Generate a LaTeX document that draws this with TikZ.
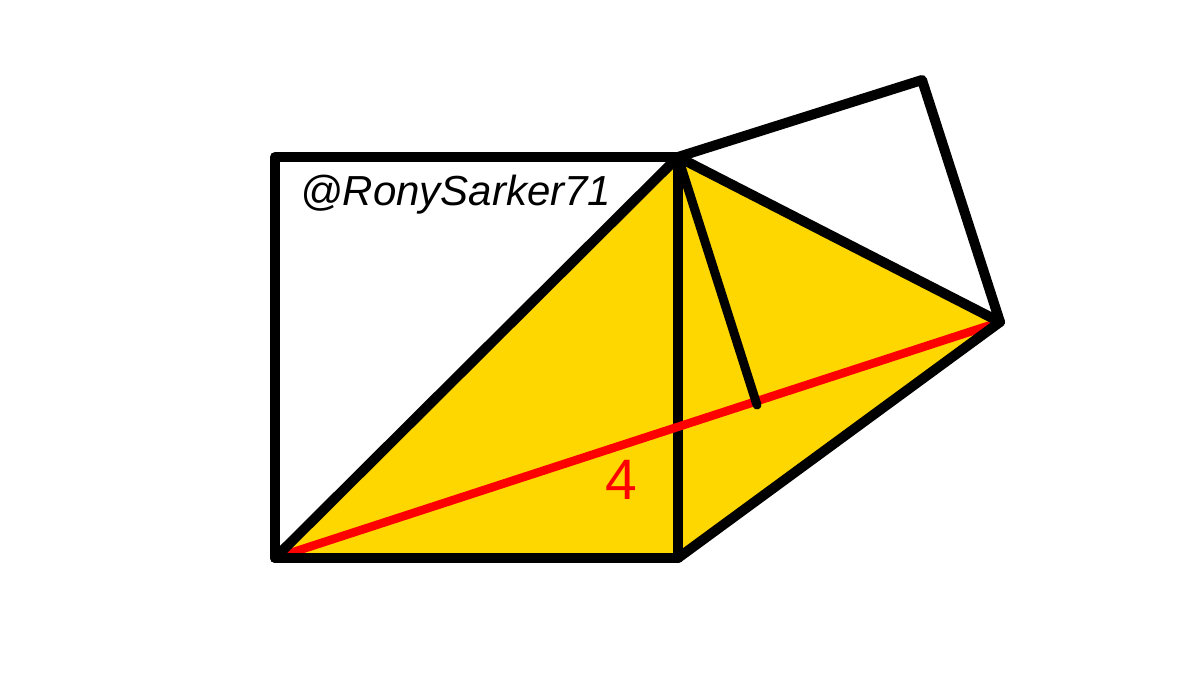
\documentclass[tikz,border=0pt]{standalone}
\usepackage{fontspec}
\setmainfont{Liberation Sans}
\definecolor{gold}{RGB}{255,215,0}
\definecolor{redline}{RGB}{255,0,0}
\tikzset{
  edge/.style={draw=black, line width=10pt, line join=round, line cap=round},
  redseg/.style={draw=redline, line width=8.5pt, line cap=butt},
  perp/.style={draw=black, line width=9pt, line cap=round},
}
\begin{document}
\begin{tikzpicture}[x=1pt,y=-1pt]
\useasboundingbox[fill=white] (0,0) rectangle (1200,675);
\coordinate (A) at (275,558);
\coordinate (B) at (275,157);
\coordinate (P) at (678,157);
\coordinate (C) at (678,558);
\coordinate (T) at (922,80);
\coordinate (R) at (1000,322);
\coordinate (F) at (757,405);
\fill[gold] (A) -- (P) -- (R) -- (C) -- cycle;
\draw[edge] (P) -- (C);
\draw[redseg] (A) -- (R);
\draw[edge] (C) -- (A) -- (B) -- (P);
\draw[edge] (A) -- (P);
\draw[edge] (P) -- (T) -- (R) -- cycle;
\draw[edge] (R) -- (C);
\draw[perp] (P) -- (F);
\node[font={\fontsize{42}{50}\selectfont\itshape}, anchor=base west, inner sep=0pt] (handle) at (300,205) {@RonySarker71};
\node[font={\fontsize{57}{68}\selectfont}, text=redline, anchor=base, inner sep=0pt] (four) at (621,499) {4};
\end{tikzpicture}
\end{document}
